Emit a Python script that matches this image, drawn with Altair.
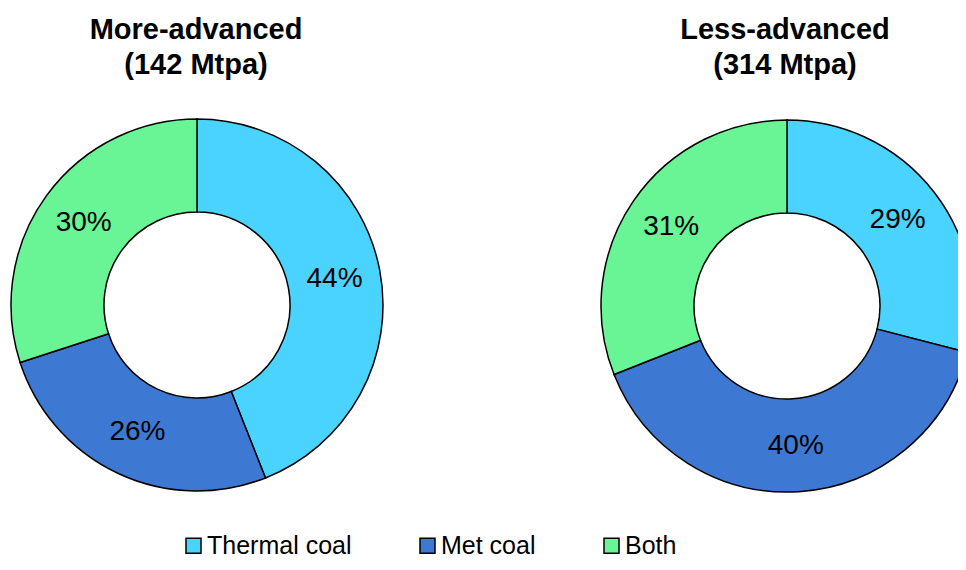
import altair as alt
import pandas as pd

categories = ["Thermal coal", "Met coal", "Both"]
groups = ["More-advanced", "Less-advanced"]
capacity_mtpa = [142, 314]
more_advanced_pct = [44, 26, 30]
less_advanced_pct = [29, 40, 31]
colors = ["#4AD3FF", "#3D79D3", "#69F495"]

rows = []
for g, vals in zip(groups, [more_advanced_pct, less_advanced_pct]):
    for i, (c, v) in enumerate(zip(categories, vals)):
        rows.append({"group": g, "cat": c, "idx": i, "value": v})
df = pd.DataFrame(rows)
titles = pd.DataFrame({"group": groups, "cap": capacity_mtpa})

W, H = 950, 554
FONT = "Liberation Sans"
centers = {"More-advanced": (189, 297), "Less-advanced": (779, 298)}
title_x = {"More-advanced": 188, "Less-advanced": 777}

color = alt.Color(
    "cat:N",
    scale=alt.Scale(domain=categories, range=colors),
    legend=alt.Legend(
        title=None, orient="none", legendX=173, legendY=525,
        direction="horizontal", symbolType="square", symbolSize=225,
        symbolStrokeColor="black", symbolStrokeWidth=1.5, symbolOpacity=1,
        labelFontSize=25, labelFont=FONT, labelColor="black", labelOffset=1,
        columnPadding=63, padding=0,
    ),
)

layers = []
for g in groups:
    cx, cy = centers[g]
    sub = alt.Chart(df).transform_filter(alt.datum.group == g).transform_calculate(
        label="datum.value + '%'"
    )
    arc = sub.mark_arc(outerRadius=186, innerRadius=93, stroke="black", strokeWidth=1.5).encode(
        theta=alt.Theta("value:Q", stack=True),
        order=alt.Order("idx:Q"),
        color=color,
        x=alt.value(cx),
        y=alt.value(cy),
    )
    txt = sub.mark_text(
        radius=140, fontSize=28, font=FONT, color="black", align="center", baseline="middle",
    ).encode(
        theta=alt.Theta("value:Q", stack=True),
        order=alt.Order("idx:Q"),
        text="label:N",
        x=alt.value(cx),
        y=alt.value(cy),
    )
    ttl = alt.Chart(titles).transform_filter(alt.datum.group == g).transform_calculate(
        t="datum.group + '\\n(' + datum.cap + ' Mtpa)'"
    ).mark_text(
        fontSize=29, font=FONT, fontWeight="bold", color="black", align="center",
        baseline="alphabetic", lineBreak="\n", lineHeight=35,
    ).encode(text="t:N", x=alt.value(title_x[g]), y=alt.value(31))
    layers += [arc, txt, ttl]

chart = alt.layer(*layers).properties(
    width=W, height=H, autosize=alt.AutoSizeParams(type="none"), padding=0
).configure_view(stroke=None)

chart.save("out.html", embed_options={"renderer": "svg", "actions": False})
